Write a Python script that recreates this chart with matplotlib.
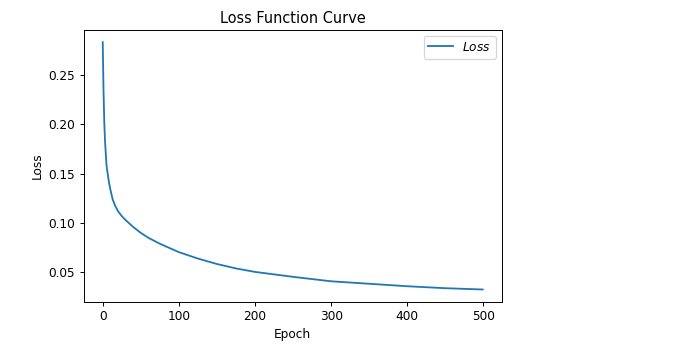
#Loss function curve

import numpy as np
import matplotlib.pyplot as plt

#Loss values
epoch=[0, 1, 2, 3, 5, 8, 10, 13, 16, 20, 25, 30, 40, 50, 60, 75, 100, 125, 150, 175, 200, 250, 300, 350, 400, 450, 499]
loss=[0.283, 0.235, 0.203, 0.183, 0.158, 0.142, 0.134, 0.124, 0.118, 0.112, 0.107, 0.103, 0.096, 0.090, 0.085, 0.079, 0.0705, 0.064, 0.0585, 0.054, 0.0505, 0.0455, 0.041, 0.0385, 0.036, 0.034, 0.0327]

fig=plt.figure(figsize=(692/87, 351/87), dpi=87)
plt.subplots_adjust(left=0.121, right=0.725, top=0.915, bottom=0.14)

plt.plot(epoch, loss, label='$Loss$')
plt.xlabel('Epoch')
plt.ylabel('Loss')
plt.title('Loss Function Curve')
plt.legend(loc='upper right')
plt.savefig('out.png', dpi=87)
